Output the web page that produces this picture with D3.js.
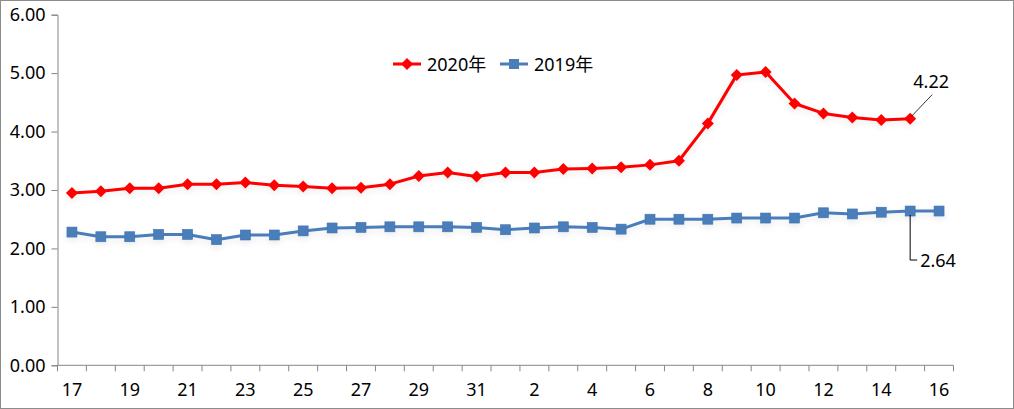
<!DOCTYPE html>
<html><head><meta charset="utf-8">
<script src="https://cdn.jsdelivr.net/npm/d3@7/dist/d3.min.js"></script>
<style>
body{margin:0;background:#fff;}
svg text{font-family:"Noto Sans","Noto Sans CJK SC",sans-serif;fill:#000;}
</style></head>
<body>
<svg id="chart" width="1014" height="409"></svg>
<script>
const categories = ["17","18","19","20","21","22","23","24","25","26","27","28","29","30","31","1","2","3","4","5","6","7","8","9","10","11","12","13","14","15","16"];
const series2020 = [2.95,2.98,3.03,3.03,3.10,3.10,3.13,3.08,3.06,3.03,3.04,3.10,3.24,3.30,3.23,3.30,3.30,3.36,3.37,3.39,3.43,3.50,4.14,4.97,5.02,4.48,4.31,4.24,4.20,4.22];
const series2019 = [2.28,2.20,2.20,2.24,2.24,2.15,2.23,2.23,2.30,2.35,2.36,2.37,2.37,2.37,2.36,2.32,2.35,2.37,2.36,2.33,2.50,2.50,2.50,2.52,2.52,2.52,2.61,2.59,2.62,2.64,2.64];
const yTicks = [0,1,2,3,4,5,6];
const seriesNames = ["2020年","2019年"];
const xLabelEvery = 2;

const svg = d3.select("#chart");
const W = 1014, H = 409;
const m = {left:57.5, right:1014-953.5, top:14.7, bottom:409-365.3};
const FS = "18px";

svg.append("rect").attr("x",0.5).attr("y",0.5).attr("width",W-1).attr("height",H-1)
  .attr("fill","#fff").attr("stroke","#8c8c8c").attr("stroke-width",1);

const defs = svg.append("defs");
const f = defs.append("filter").attr("id","shadow").attr("x","-5%").attr("y","-50%").attr("width","110%").attr("height","200%");
f.append("feDropShadow").attr("dx",0).attr("dy",3).attr("stdDeviation",3).attr("flood-color","#000").attr("flood-opacity",0.08);

const x = d3.scaleBand().domain(d3.range(categories.length)).range([m.left, W-m.right]);
const y = d3.scaleLinear().domain([0,6]).range([H-m.bottom, m.top]);
const cx = i => x(i) + x.bandwidth()/2;

// Y axis
const yAxis = d3.axisLeft(y).tickValues(yTicks).tickFormat(d3.format(".2f")).tickSize(6).tickPadding(6);
const gy = svg.append("g").attr("transform",`translate(${m.left},0)`).call(yAxis);
gy.selectAll("text").style("font-size",FS).style("font-family",null);
gy.attr("font-family",null);
gy.selectAll("line,path").attr("stroke","#868686");

// X axis with ticks at category boundaries
const gx = svg.append("g").attr("transform",`translate(0,${y(0)})`);
gx.append("line").attr("x1",m.left).attr("x2",W-m.right).attr("stroke","#868686");
const bounds = d3.range(categories.length+1).map(i => i < categories.length ? x(i) : x(categories.length-1)+x.bandwidth());
gx.selectAll("line.tk").data(bounds).join("line").attr("class","tk")
  .attr("x1",d=>d).attr("x2",d=>d).attr("y1",0).attr("y2",6).attr("stroke","#868686");
gx.selectAll("text").data(categories.map((c,i)=>({c,i})).filter(d=>d.i%xLabelEvery===0)).join("text")
  .attr("x",d=>cx(d.i)).attr("y",31).attr("text-anchor","middle").style("font-size",FS).text(d=>d.c);

const line = d3.line().x((d,i)=>cx(i)).y(d=>y(d));

// 2019
const g19 = svg.append("g").attr("filter","url(#shadow)");
g19.append("path").datum(series2019).attr("d",line).attr("fill","none").attr("stroke","#4a7ebb").attr("stroke-width",3).attr("stroke-linejoin","round");
g19.selectAll("rect").data(series2019).join("rect")
  .attr("x",(d,i)=>cx(i)-5).attr("y",d=>y(d)-5).attr("width",10).attr("height",10).attr("fill","#4a7ebb").attr("stroke","#3f72ad").attr("stroke-width",0.6);

// 2020
const g20 = svg.append("g").attr("filter","url(#shadow)");
g20.append("path").datum(series2020).attr("d",line).attr("fill","none").attr("stroke","#ff0000").attr("stroke-width",3).attr("stroke-linejoin","round");
const diamond = (px,py,r)=>`M${px},${py-r}L${px+r},${py}L${px},${py+r}L${px-r},${py}Z`;
g20.selectAll("path.mk").data(series2020).join("path").attr("class","mk")
  .attr("d",(d,i)=>diamond(cx(i),y(d),6)).attr("fill","#ff0000");

// Data labels with leader lines
const i20 = series2020.length-1;
const p20 = [cx(i20), y(series2020[i20])];
svg.append("line").attr("x1",p20[0]+1).attr("y1",p20[1]-2).attr("x2",p20[0]+22).attr("y2",p20[1]-24).attr("stroke","#000").attr("stroke-width",0.8);
svg.append("text").attr("x",p20[0]+21).attr("y",p20[1]-31).attr("text-anchor","middle").style("font-size",FS).text(d3.format(".2f")(series2020[i20]));

const i19 = 29;
const p19 = [cx(i19), y(series2019[i19])];
svg.append("path").attr("d",`M${p19[0]},${p19[1]+4}V${p19[1]+49}H${p19[0]+7}`).attr("fill","none").attr("stroke","#000").attr("stroke-width",1);
svg.append("text").attr("x",p19[0]+10).attr("y",p19[1]+56).style("font-size",FS).text(d3.format(".2f")(series2019[i19]));

// Legend
const lg = svg.append("g");
const items = [{name:seriesNames[0],color:"#ff0000",type:"d",x:393},{name:seriesNames[1],color:"#4a7ebb",type:"s",x:500}];
const ly = 64;
items.forEach(it=>{
  lg.append("line").attr("x1",it.x).attr("x2",it.x+28).attr("y1",ly).attr("y2",ly).attr("stroke",it.color).attr("stroke-width",3);
  if(it.type==="d") lg.append("path").attr("d",diamond(it.x+14,ly,6)).attr("fill",it.color);
  else lg.append("rect").attr("x",it.x+9).attr("y",ly-5).attr("width",10).attr("height",10).attr("fill",it.color);
  lg.append("text").attr("x",it.x+34).attr("y",ly+7).style("font-size",FS).text(it.name);
});
</script>
</body></html>
